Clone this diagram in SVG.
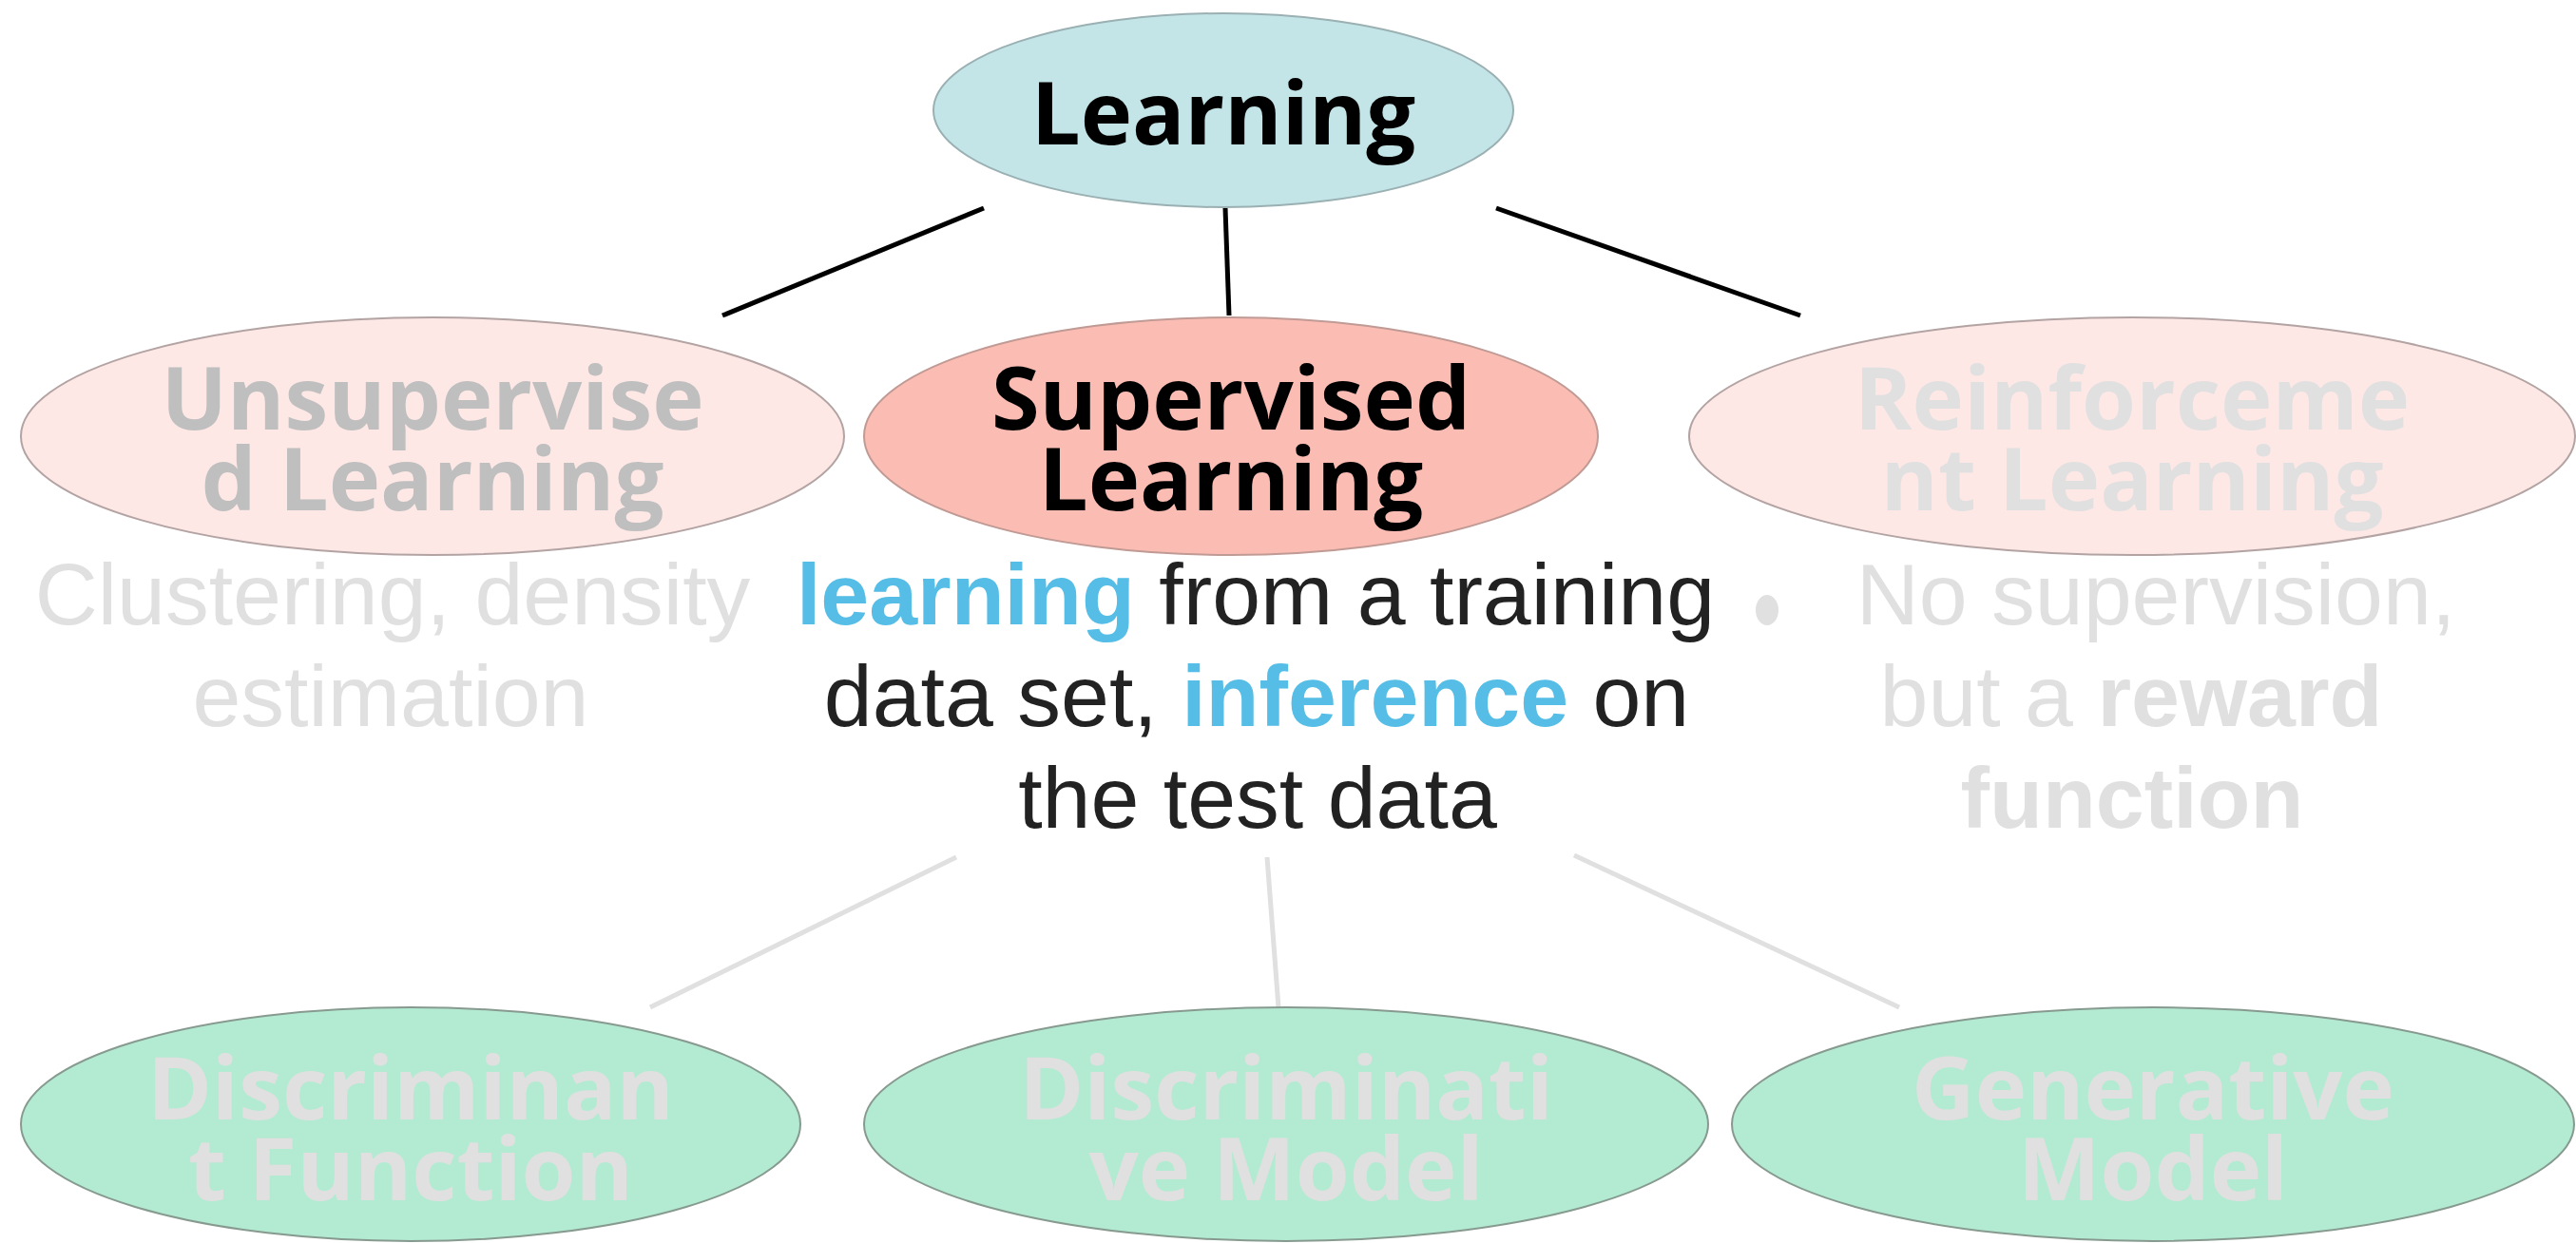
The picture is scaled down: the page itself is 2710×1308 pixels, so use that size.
<svg xmlns="http://www.w3.org/2000/svg" width="2710" height="1308" viewBox="0 0 2710 1308">
<style>
.node{font-family:"Open Sans","Noto Sans","DejaVu Sans",sans-serif;font-weight:700;font-size:92px;text-anchor:middle}
.desc{font-family:"Liberation Sans",Arial,sans-serif;font-size:91.5px;text-anchor:middle}
.b{font-weight:700}
.blue{fill:#55bde6}
.pink{fill:#fde8e6;stroke:#b3a3a3;stroke-width:2}
.green{fill:#b3ead2;stroke:#879a90;stroke-width:2}
.dark{stroke:#000;stroke-width:5}
.light{stroke:#e0e0e0;stroke-width:5}
</style>
<rect width="2710" height="1308" fill="#fff"/>
<g id="connectors">
<line class="dark" x1="1035" y1="219" x2="760" y2="332"/>
<line class="dark" x1="1289" y1="219" x2="1293" y2="332"/>
<line class="dark" x1="1574" y1="219" x2="1894" y2="332"/>
<line class="light" x1="1006" y1="902" x2="684" y2="1060"/>
<line class="light" x1="1333" y1="902" x2="1345" y2="1060"/>
<line class="light" x1="1656" y1="900" x2="1998" y2="1060"/>
</g>
<g id="learning">
<ellipse cx="1287" cy="116" rx="305" ry="102" fill="#c3e5e8" stroke="#9ab0b2" stroke-width="2"/>
<text class="node" x="1287" y="152" fill="#000">Learning</text>
</g>
<g id="unsupervised">
<ellipse class="pink" cx="455" cy="459" rx="433" ry="125"/>
<text class="node" x="455" y="452" fill="#bfbfbf">Unsupervise</text>
<text class="node" x="455" y="537" fill="#bfbfbf">d Learning</text>
</g>
<g id="supervised">
<ellipse cx="1295" cy="459" rx="386" ry="125" fill="#fbbdb3" stroke="#c09a94" stroke-width="2"/>
<text class="node" x="1295" y="452" fill="#000">Supervised</text>
<text class="node" x="1295" y="537" fill="#000">Learning</text>
</g>
<g id="reinforcement">
<ellipse class="pink" cx="2243" cy="459" rx="466" ry="125"/>
<text class="node" x="2243" y="452" fill="#e0e0e0">Reinforceme</text>
<text class="node" x="2243" y="537" fill="#e0e0e0">nt Learning</text>
</g>
<g id="unsupervised-desc" fill="#e0e0e0">
<text class="desc" x="413" y="657">Clustering, density</text>
<text class="desc" x="411" y="764">estimation</text>
</g>
<g id="supervised-desc" fill="#222">
<text class="desc" x="1321" y="657"><tspan class="b blue">learning</tspan> from a training</text>
<text class="desc" x="1322" y="764">data set, <tspan class="b blue">inference</tspan> on</text>
<text class="desc" x="1323" y="871">the test data</text>
</g>
<ellipse id="dot" cx="1859" cy="642" rx="12" ry="16" fill="#e0e0e0"/>
<g id="reinforcement-desc" fill="#e0e0e0">
<text class="desc" x="2268" y="657">No supervision,</text>
<text class="desc" x="2242" y="764">but a <tspan class="b">reward</tspan></text>
<text class="desc b" x="2243" y="871">function</text>
</g>
<g id="discriminant-function">
<ellipse class="green" cx="432" cy="1183" rx="410" ry="123"/>
<text class="node" x="432" y="1178" fill="#e0e0e0">Discriminan</text>
<text class="node" x="432" y="1263" fill="#e0e0e0">t Function</text>
</g>
<g id="discriminative-model">
<ellipse class="green" cx="1353" cy="1183" rx="444" ry="123"/>
<text class="node" x="1353" y="1178" fill="#e0e0e0">Discriminati</text>
<text class="node" x="1353" y="1263" fill="#e0e0e0">ve Model</text>
</g>
<g id="generative-model">
<ellipse class="green" cx="2265" cy="1183" rx="443" ry="123"/>
<text class="node" x="2265" y="1178" fill="#e0e0e0">Generative</text>
<text class="node" x="2265" y="1263" fill="#e0e0e0">Model</text>
</g>
</svg>
